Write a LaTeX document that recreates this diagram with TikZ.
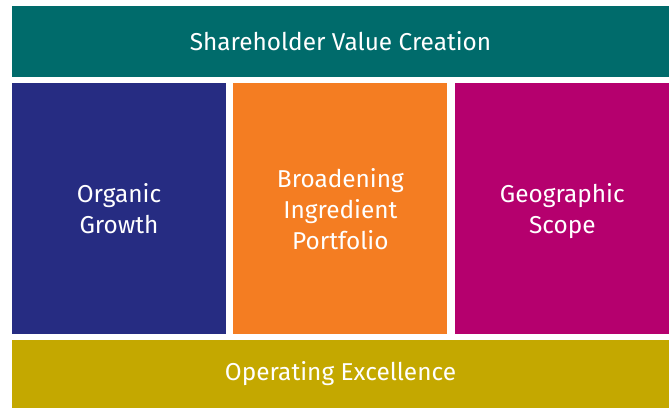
\documentclass[tikz,border=0pt]{standalone}
\usepackage{fontspec}
\setmainfont{Fira Sans}
\usetikzlibrary{positioning}
\definecolor{valueteal}{HTML}{006B6B}
\definecolor{organicblue}{HTML}{262C82}
\definecolor{broadorange}{HTML}{F47D22}
\definecolor{geomagenta}{HTML}{B5006E}
\definecolor{excelgold}{HTML}{C4A800}
\begin{document}
\begin{tikzpicture}
[x=1pt,y=-1pt,node distance=6pt,
 every node/.style={text=white,inner sep=0pt,align=center,
   font=\fontsize{24.4}{31}\selectfont},
 bar/.style={minimum width=657pt,minimum height=71pt},
 pillar/.style={minimum width=214pt,minimum height=251pt,text depth=#1},
 pillar/.default=-6pt]

\useasboundingbox (0,0) rectangle (669,407);

\node [bar,fill=valueteal] (value) at (340.5,41.5) {Shareholder Value Creation};
\node [pillar,fill=organicblue] (organic) [below right=6pt and 0pt of value.south west] {Organic\\Growth};
\node [pillar=-12pt,fill=broadorange] (broad) [right=7pt of organic] {Broadening\\Ingredient\\Portfolio};
\node [pillar,fill=geomagenta,minimum width=215pt] (geo) [right=7pt of broad] {Geographic\\Scope};
\node [bar,fill=excelgold,minimum height=68pt] (excel) [below right=5pt and 0pt of organic.south west] {Operating Excellence};
\end{tikzpicture}
\end{document}
